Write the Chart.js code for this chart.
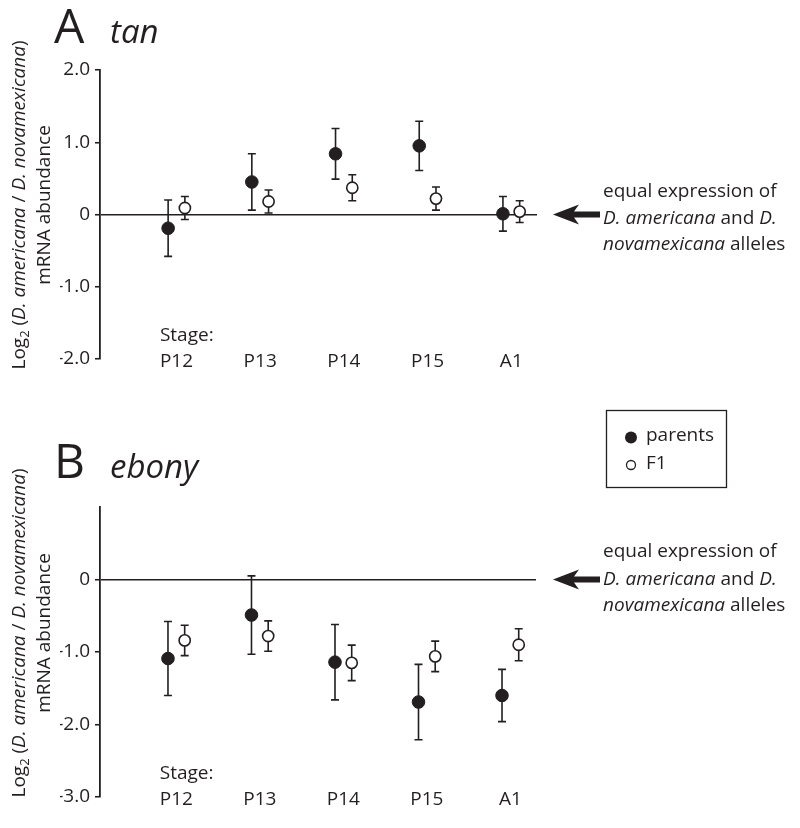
<!DOCTYPE html>
<html>
<head>
<meta charset="utf-8">
<script src="https://cdn.jsdelivr.net/npm/chart.js@4.4.1/dist/chart.umd.min.js"></script>
<style>
    body { margin: 0; background: #fff; }
    #wrap { position: relative; width: 800px; height: 828px; }
    canvas { position: absolute; left: 0; }
    #panelA { top: 0; }
    #panelB { top: 400px; }
</style>
</head>
<body>
<div id="wrap">
    <canvas id="panelA" width="800" height="400"></canvas>
    <canvas id="panelB" width="800" height="428"></canvas>
</div>
<script>
// Stages along the x axis
const stages = ['P12', 'P13', 'P14', 'P15', 'A1'];

// Panel A: tan
const tanParents = [-0.19, 0.45, 0.84, 0.95, 0.01];
const tanParentsErr = [0.39, 0.39, 0.35, 0.34, 0.24];
const tanF1 = [0.09, 0.18, 0.37, 0.22, 0.04];
const tanF1Err = [0.16, 0.16, 0.18, 0.16, 0.15];
const tanTicks = [2, 1, 0, -1, -2];

// Panel B: ebony
const ebonyParents = [-1.09, -0.49, -1.14, -1.69, -1.60];
const ebonyParentsErr = [0.51, 0.54, 0.52, 0.52, 0.36];
const ebonyF1 = [-0.84, -0.78, -1.15, -1.06, -0.90];
const ebonyF1Err = [0.21, 0.21, 0.245, 0.21, 0.22];
const ebonyTicks = [1, 0, -1, -2, -3];
const ebonyHiddenTicks = [1];

const INK = '#231f20';
const FONT = '"Open Sans", sans-serif';

function font(size, italic) {
    return (italic ? 'italic ' : '') + size + 'px ' + FONT;
}

// draw a line of text made of plain / italic / subscript pieces
function drawRich(ctx, parts, x, y, size, align) {
    const widths = parts.map(p => {
        ctx.font = font(p.sub ? size * 0.68 : size, p.it);
        return ctx.measureText(p.t).width;
    });
    const total = widths.reduce((a, b) => a + b, 0);
    let cx = align === 'center' ? x - total / 2 : x;
    ctx.textAlign = 'left';
    ctx.textBaseline = 'middle';
    parts.forEach((p, i) => {
        ctx.font = font(p.sub ? size * 0.68 : size, p.it);
        ctx.fillText(p.t, cx, p.sub ? y + size * 0.3 : y);
        cx += widths[i];
    });
}

const errorBars = {
    id: 'errorBars',
    beforeDatasetsDraw(chart) {
        const ctx = chart.ctx;
        const y = chart.scales.y;
        ctx.save();
        ctx.strokeStyle = INK;
        ctx.lineWidth = 1.6;
        chart.data.datasets.forEach((ds, d) => {
            const meta = chart.getDatasetMeta(d);
            ds.data.forEach((pt, j) => {
                const px = meta.data[j].x;
                const top = y.getPixelForValue(pt.y + ds.errors[j]);
                const bot = y.getPixelForValue(pt.y - ds.errors[j]);
                ctx.beginPath();
                ctx.moveTo(px, top); ctx.lineTo(px, bot);
                ctx.moveTo(px - 4, top); ctx.lineTo(px + 4, top);
                ctx.moveTo(px - 4, bot); ctx.lineTo(px + 4, bot);
                ctx.stroke();
            });
        });
        ctx.restore();
    }
};

const decor = {
    id: 'decor',
    afterDraw(chart, args, o) {
        const ctx = chart.ctx;
        const area = chart.chartArea;
        const xs = chart.scales.x;
        const ys = chart.scales.y;
        const zero = ys.getPixelForValue(0);
        ctx.save();
        ctx.fillStyle = INK;

        // panel letter and gene name
        ctx.textAlign = 'left';
        ctx.textBaseline = 'alphabetic';
        ctx.font = font(48, false);
        ctx.fillText(o.letter, 54, o.titleBaseline);
        ctx.font = font(33, true);
        ctx.fillText(o.gene, 110, o.titleBaseline);

        // y axis title, two rotated lines
        ctx.save();
        ctx.translate(20, o.yTitleCenter);
        ctx.rotate(-Math.PI / 2);
        drawRich(ctx, [
            { t: 'Log' }, { t: '2', sub: true }, { t: ' (' },
            { t: 'D. americana', it: true }, { t: ' / ' },
            { t: 'D. novamexicana', it: true }, { t: ')' }
        ], 0, 0, 19, 'center');
        ctx.restore();
        ctx.save();
        ctx.translate(45, o.yTitleCenter);
        ctx.rotate(-Math.PI / 2);
        drawRich(ctx, [{ t: 'mRNA abundance' }], 0, 0, 19, 'center');
        ctx.restore();

        // stage labels
        ctx.font = font(19, false);
        ctx.textAlign = 'center';
        ctx.textBaseline = 'middle';
        stages.forEach((s, i) => {
            ctx.fillText(s, xs.getPixelForValue(i), area.bottom + 3);
        });
        const firstW = ctx.measureText(stages[0]).width;
        ctx.textAlign = 'left';
        ctx.fillText('Stage:', xs.getPixelForValue(0) - firstW / 2, area.bottom - 23);

        // arrow pointing at the zero line
        ctx.beginPath();
        ctx.moveTo(553, zero);
        ctx.lineTo(579, zero - 10);
        ctx.lineTo(574, zero - 3);
        ctx.lineTo(600, zero - 3);
        ctx.lineTo(600, zero + 3);
        ctx.lineTo(574, zero + 3);
        ctx.lineTo(579, zero + 10);
        ctx.closePath();
        ctx.fill();

        const nx = 603;
        drawRich(ctx, [{ t: 'equal expression of' }], nx, zero + o.noteOffsets[0], 19, 'left');
        drawRich(ctx, [{ t: 'D. americana', it: true }, { t: ' and ' }, { t: 'D.', it: true }],
            nx, zero + o.noteOffsets[1], 19, 'left');
        drawRich(ctx, [{ t: 'novamexicana', it: true }, { t: ' alleles' }],
            nx, zero + o.noteOffsets[2], 19, 'left');

        if (o.legend) {
            ctx.strokeStyle = INK;
            ctx.lineWidth = 1.3;
            ctx.strokeRect(606.5, 10.5, 120, 77);
            ctx.beginPath();
            ctx.arc(631, 37.5, 6, 0, Math.PI * 2);
            ctx.fill();
            ctx.fillStyle = '#fff';
            ctx.beginPath();
            ctx.arc(631, 65, 4.5, 0, Math.PI * 2);
            ctx.fill();
            ctx.stroke();
            ctx.fillStyle = INK;
            ctx.font = font(19, false);
            ctx.textAlign = 'left';
            ctx.textBaseline = 'middle';
            ctx.fillText('parents', 646, 36);
            ctx.fillText('F1', 646, 64);
        }
        ctx.restore();
    }
};

function makePanel(id, p) {
    const ticks = p.ticks;
    const hidden = p.hidden || [];
    new Chart(document.getElementById(id), {
        type: 'scatter',
        data: {
            datasets: [{
                label: 'parents',
                data: p.parents.map((v, i) => ({ x: i - 0.1, y: v })),
                errors: p.parentsErr,
                pointRadius: 6.3,
                pointBackgroundColor: INK,
                pointBorderColor: INK,
                pointBorderWidth: 1
            }, {
                label: 'F1',
                data: p.f1.map((v, i) => ({ x: i + 0.1, y: v })),
                errors: p.f1Err,
                pointRadius: 5.6,
                pointBackgroundColor: '#fff',
                pointBorderColor: INK,
                pointBorderWidth: 1.6
            }]
        },
        options: {
            responsive: false,
            animation: false,
            devicePixelRatio: 1,
            layout: { padding: p.padding },
            plugins: {
                legend: { display: false },
                tooltip: { enabled: false },
                decor: p.decor
            },
            scales: {
                x: {
                    type: 'linear',
                    display: false,
                    min: -0.914,
                    max: 4.307
                },
                y: {
                    min: Math.min(...ticks),
                    max: Math.max(...ticks),
                    afterFit(scale) { scale.width = 40; },
                    afterBuildTicks(scale) {
                        scale.ticks = ticks.map(v => ({ value: v }));
                    },
                    border: { display: true, color: INK, width: 1.8 },
                    grid: {
                        drawOnChartArea: true,
                        color: c => (c.tick && c.tick.value === 0) ? INK : 'rgba(0,0,0,0)',
                        lineWidth: 1.5,
                        drawTicks: true,
                        tickLength: 5,
                        tickWidth: 1.6,
                        tickColor: c => (c.tick && hidden.includes(c.tick.value)) ? 'rgba(0,0,0,0)' : INK
                    },
                    ticks: {
                        color: INK,
                        padding: 5,
                        font: { family: FONT, size: 19 },
                        callback: v => hidden.includes(v) ? '' : (v === 0 ? '0' : v.toFixed(1))
                    }
                }
            }
        },
        plugins: [errorBars, decor]
    });
}

makePanel('panelA', {
    parents: tanParents, parentsErr: tanParentsErr,
    f1: tanF1, f1Err: tanF1Err,
    ticks: tanTicks,
    padding: { left: 60, right: 263, top: 70, bottom: 41 },
    decor: { letter: 'A', gene: 'tan', titleBaseline: 43, yTitleCenter: 205, noteOffsets: [-23, 4, 30], legend: false }
});

makePanel('panelB', {
    parents: ebonyParents, parentsErr: ebonyParentsErr,
    f1: ebonyF1, f1Err: ebonyF1Err,
    ticks: ebonyTicks, hidden: ebonyHiddenTicks,
    padding: { left: 60, right: 264, top: 107, bottom: 31 },
    decor: { letter: 'B', gene: 'ebony', titleBaseline: 78, yTitleCenter: 233, noteOffsets: [-28, 0, 26], legend: true }
});
</script>
</body>
</html>
